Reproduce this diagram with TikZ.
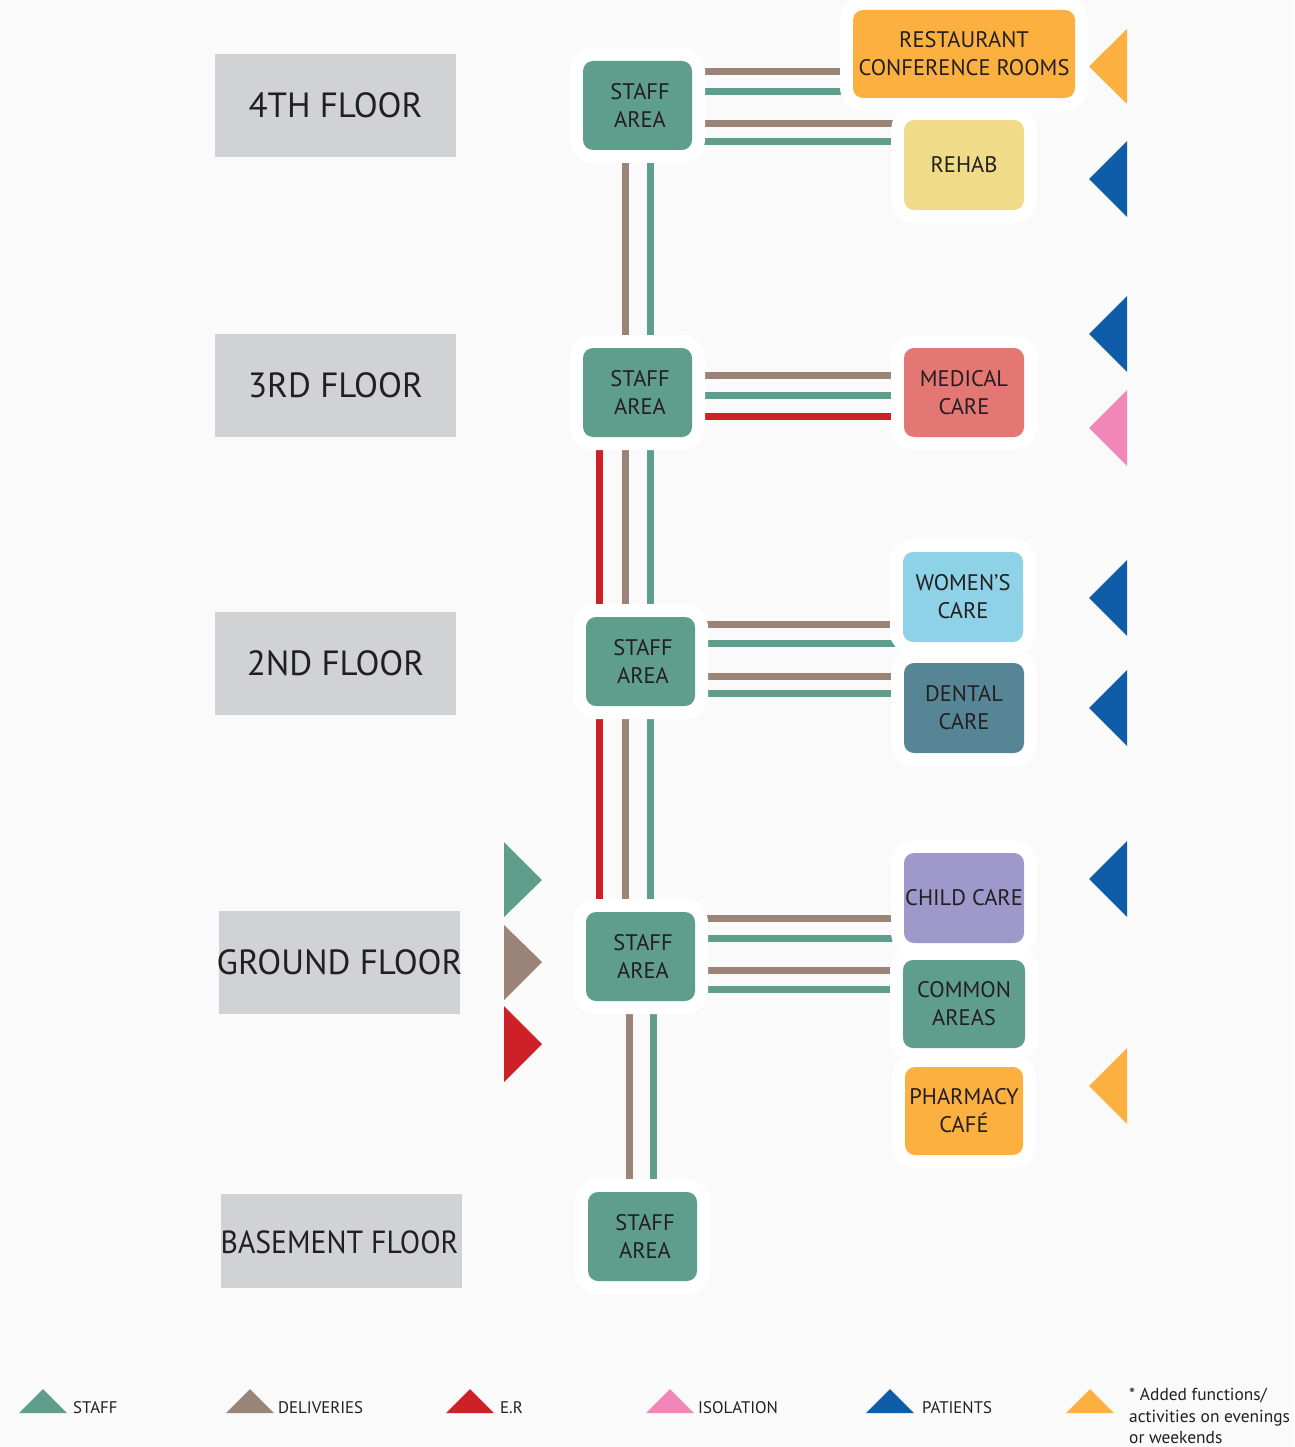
\documentclass[tikz,border=0pt]{standalone}
\usepackage{fontspec}
\usepackage{graphicx}
\setmainfont{PT Sans}
\usetikzlibrary{calc}
\definecolor{bgc}{HTML}{FAFAFA}
\definecolor{tealc}{HTML}{5F9E8C}
\definecolor{brnc}{HTML}{9A8478}
\definecolor{redc}{HTML}{CE2027}
\definecolor{pinkc}{HTML}{F087B6}
\definecolor{bluec}{HTML}{0F5CA8}
\definecolor{orgc}{HTML}{FBB040}
\definecolor{yelc}{HTML}{F0DC88}
\definecolor{medc}{HTML}{E47673}
\definecolor{womc}{HTML}{8DD2E7}
\definecolor{dentc}{HTML}{568696}
\definecolor{childc}{HTML}{9E99CA}
\definecolor{grayc}{HTML}{D1D2D4}
\definecolor{txtc}{HTML}{231F20}
\pgfdeclarelayer{bg}
\pgfsetlayers{bg,main}
\begin{document}
\begin{tikzpicture}[x=1pt,y=-1pt,
  floorbox/.style={fill=grayc, minimum width=241pt, minimum height=103pt, inner sep=0pt},
  floortext/.style={text=txtc, inner sep=0pt, font=\fontsize{35}{40}\selectfont},
  roombox/.style={rounded corners=10pt, inner sep=0pt, text=txtc, align=center,
     font=\fontsize{22.5}{28}\selectfont, minimum width=120pt, minimum height=90pt,
     preaction={draw=white, line width=26pt}},
  staffbox/.style={roombox, fill=tealc, minimum width=109pt, minimum height=89pt},
  ln/.style={line width=7pt},
  legtext/.style={anchor=base west, inner sep=0pt, text=txtc, font=\fontsize{16.8}{18}\selectfont}
]
\begin{pgfonlayer}{bg}
\fill[bgc] (0,0) rectangle (1294,1447);
\end{pgfonlayer}
\useasboundingbox (0,0) rectangle (1294,1447);

% floor labels
\node[floorbox] (f4) at (335.5,105.5) {};
\node[floortext] at (f4) {4TH FLOOR};
\node[floorbox] (f3) at (335.5,385.5) {};
\node[floortext] at (f3) {3RD FLOOR};
\node[floorbox] (f2) at (335.5,663.5) {};
\node[floortext] at (f2) {2ND FLOOR};
\node[floorbox] (fg) at (339.5,962.5) {};
\node[floortext] at (fg) {GROUND FLOOR};
\node[floorbox, minimum height=94pt] (fb) at (341.5,1241) {};
\node[floortext, font=\fontsize{32}{36}\selectfont] at (339.5,1242) {\scalebox{0.93}[1]{BASEMENT FLOOR}};

% staff areas
\node[staffbox] (sa4) at (637.5,105.5) {\hspace*{5pt}STAFF\\\hspace*{5pt}AREA};
\node[staffbox] (sa3) at (637.5,392.5) {\hspace*{5pt}STAFF\\\hspace*{5pt}AREA};
\node[staffbox] (sa2) at (640.5,661.5) {\hspace*{5pt}STAFF\\\hspace*{5pt}AREA};
\node[staffbox] (sag) at (640.5,956.5) {\hspace*{5pt}STAFF\\\hspace*{5pt}AREA};
\node[staffbox] (sab) at (642.5,1236.5) {\hspace*{5pt}STAFF\\\hspace*{5pt}AREA};

% rooms
\node[roombox, fill=orgc, minimum width=222pt, minimum height=88pt] (rest) at (964,54) {\raisebox{2pt}{RESTAURANT}\\\raisebox{2pt}{CONFERENCE ROOMS}};
\node[roombox, fill=yelc] (rehab) at (964,165) {\raisebox{-3pt}{REHAB}};
\node[roombox, fill=medc, minimum height=89pt] (med) at (964,392.5) {MEDICAL\\CARE};
\node[roombox, fill=womc] (wom) at (963,597) {WOMEN’S\\CARE};
\node[roombox, fill=dentc] (dent) at (964,708) {DENTAL\\CARE};
\node[roombox, fill=childc] (child) at (964,898) {CHILD CARE};
\node[roombox, fill=tealc, minimum width=122pt, minimum height=88pt] (common) at (964,1004) {COMMON\\AREAS};
\node[roombox, fill=orgc, minimum width=118pt, minimum height=88pt] (pharm) at (964,1111) {PHARMACY\\CAFÉ};

% connectors
\coordinate (xr) at (599,0);
\coordinate (xb) at (625,0);
\coordinate (xt) at (650,0);
\coordinate (xbb) at (629,0);
\coordinate (xtb) at (653,0);
\begin{pgfonlayer}{bg}
% vertical
\draw[ln,brnc] (xb |- sa4.center) -- (xb |- sa3.center);
\draw[ln,tealc] (xt |- sa4.center) -- (xt |- sa3.center);
\draw[ln,redc] (xr |- sa3.center) -- (xr |- sa2.center);
\draw[ln,brnc] (xb |- sa3.center) -- (xb |- sa2.center);
\draw[ln,tealc] (xt |- sa3.center) -- (xt |- sa2.center);
\draw[ln,redc] (xr |- sa2.center) -- (xr |- sag.center);
\draw[ln,brnc] (xb |- sa2.center) -- (xb |- sag.center);
\draw[ln,tealc] (xt |- sa2.center) -- (xt |- sag.center);
\draw[ln,brnc] (xbb |- sag.center) -- (xbb |- sab.center);
\draw[ln,tealc] (xtb |- sag.center) -- (xtb |- sab.center);
% horizontal 4th
\coordinate (h1) at (0,72); \coordinate (h2) at (0,92);
\coordinate (h3) at (0,124); \coordinate (h4) at (0,142);
\draw[ln,brnc] (sa4.center |- h1) -- (rest.center |- h1);
\draw[ln,tealc] (sa4.center |- h2) -- (rest.center |- h2);
\draw[ln,brnc] (sa4.center |- h3) -- (rehab.center |- h3);
\draw[ln,tealc] (sa4.center |- h4) -- (rehab.center |- h4);
% 3rd
\coordinate (m1) at (0,375); \coordinate (m2) at (0,395); \coordinate (m3) at (0,416);
\draw[ln,brnc] (sa3.center |- m1) -- (med.center |- m1);
\draw[ln,tealc] (sa3.center |- m2) -- (med.center |- m2);
\draw[ln,redc] (sa3.center |- m3) -- (med.center |- m3);
% 2nd
\coordinate (s1) at (0,624); \coordinate (s2) at (0,643);
\coordinate (s3) at (0,676); \coordinate (s4) at (0,693);
\draw[ln,brnc] (sa2.center |- s1) -- (wom.center |- s1);
\draw[ln,tealc] (sa2.center |- s2) -- (wom.center |- s2);
\draw[ln,brnc] (sa2.center |- s3) -- (dent.center |- s3);
\draw[ln,tealc] (sa2.center |- s4) -- (dent.center |- s4);
% ground
\coordinate (g1) at (0,918); \coordinate (g2) at (0,938);
\coordinate (g3) at (0,970); \coordinate (g4) at (0,989);
\draw[ln,brnc] (sag.center |- g1) -- (child.center |- g1);
\draw[ln,tealc] (sag.center |- g2) -- (child.center |- g2);
\draw[ln,brnc] (sag.center |- g3) -- (common.center |- g3);
\draw[ln,tealc] (sag.center |- g4) -- (common.center |- g4);
\end{pgfonlayer}

% right triangles (pointing left)
\fill[orgc] (1127,29) -- (1089,66.5) -- (1127,104) -- cycle;
\fill[bluec] (1127,141) -- (1089,179) -- (1127,217) -- cycle;
\fill[bluec] (1127,296) -- (1089,334) -- (1127,372) -- cycle;
\fill[pinkc] (1127,390) -- (1089,428) -- (1127,466) -- cycle;
\fill[bluec] (1127,560) -- (1089,598) -- (1127,636) -- cycle;
\fill[bluec] (1127,670) -- (1089,708) -- (1127,746) -- cycle;
\fill[bluec] (1127,841) -- (1089,879) -- (1127,917) -- cycle;
\fill[orgc] (1127,1048) -- (1089,1086) -- (1127,1124) -- cycle;

% left triangles (pointing right)
\fill[tealc] (504,842) -- (542,880) -- (504,917) -- cycle;
\fill[brnc] (504,925) -- (542,962) -- (504,1000) -- cycle;
\fill[redc] (504,1006) -- (542,1044) -- (504,1082) -- cycle;

% legend
\fill[tealc] (19,1413) -- (43,1389) -- (67,1413) -- cycle;
\node[legtext] (l1) at (73,1413) {STAFF};
\fill[brnc] (226,1413) -- (250,1389) -- (274,1413) -- cycle;
\node[legtext] (l2) at (278,1413) {DELIVERIES};
\fill[redc] (446,1413) -- (470,1389) -- (494,1413) -- cycle;
\node[legtext] (l3) at (500,1413) {E.R};
\fill[pinkc] (646,1413) -- (670,1389) -- (694,1413) -- cycle;
\node[legtext] (l4) at (698,1413) {ISOLATION};
\fill[bluec] (866,1413) -- (890,1389) -- (914,1413) -- cycle;
\node[legtext] (l5) at (922,1413) {PATIENTS};
\fill[orgc] (1066,1413) -- (1090,1389) -- (1114,1413) -- cycle;
\node[legtext, font=\fontsize{17.4}{21.5}\selectfont, align=left, anchor=north west] (l6) at (1129,1388)
  {* Added functions/\\activities on evenings\\or weekends};
\end{tikzpicture}
\end{document}
